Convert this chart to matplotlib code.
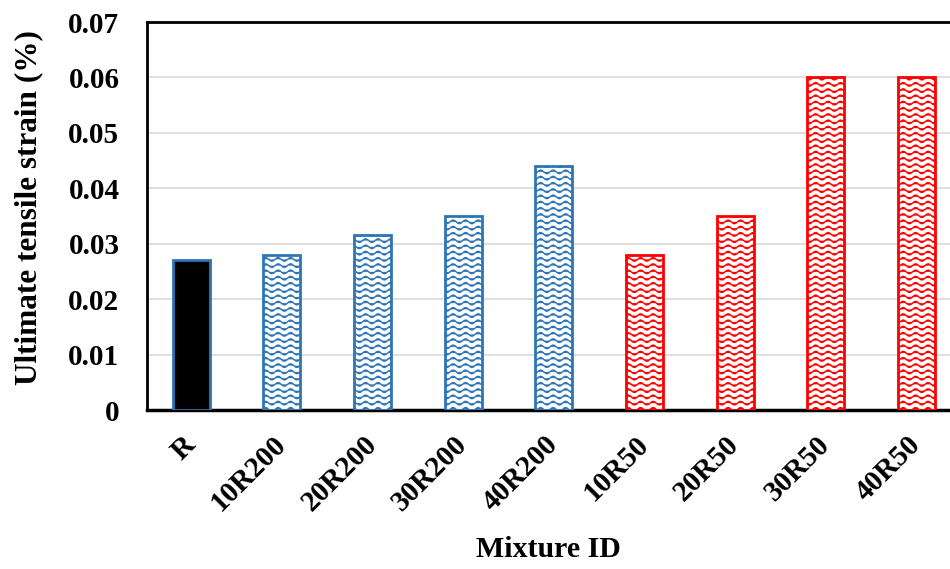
import warnings
import numpy as np
import matplotlib
matplotlib.use("Agg")
import matplotlib.pyplot as plt
import matplotlib.hatch as mhatch

warnings.filterwarnings("ignore")

# Data
mixtures = ["R", "10R200", "20R200", "30R200", "40R200", "10R50", "20R50", "30R50", "40R50"]
strain = [0.027, 0.028, 0.0315, 0.035, 0.044, 0.028, 0.035, 0.060, 0.060]
groups = ["ref", "R200", "R200", "R200", "R200", "R50", "R50", "R50", "R50"]
y_ticks = [0, 0.01, 0.02, 0.03, 0.04, 0.05, 0.06, 0.07]
y_tick_labels = ["0", "0.01", "0.02", "0.03", "0.04", "0.05", "0.06", "0.07"]


class WaveHatch(mhatch.HatchPatternBase):
    """Rows of small sine waves, selected with the '~' hatch character."""
    rows_per_cell = 16
    periods_per_cell = 8
    samples = 96
    amplitude = 0.018

    def __init__(self, hatch, density):
        self.num_rows = hatch.count("~") * self.rows_per_cell
        self.num_vertices = self.num_rows * (self.samples + 1)

    def set_vertices_and_codes(self, vertices, codes):
        if self.num_rows == 0:
            return
        x = np.linspace(0.0, 1.0, self.samples + 1)
        wave = self.amplitude * np.sin(2 * np.pi * self.periods_per_cell * x)
        n = self.samples + 1
        for i in range(self.num_rows):
            y0 = (i + 0.5) / self.num_rows
            vertices[i * n:(i + 1) * n, 0] = x
            vertices[i * n:(i + 1) * n, 1] = y0 + wave
            codes[i * n] = mhatch.Path.MOVETO
            codes[i * n + 1:(i + 1) * n] = mhatch.Path.LINETO


if WaveHatch not in mhatch._hatch_types:
    mhatch._hatch_types.append(WaveHatch)

plt.rcParams["font.family"] = ["Liberation Serif", "DejaVu Serif"]
plt.rcParams["font.weight"] = "bold"
plt.rcParams["hatch.linewidth"] = 1.0

BLUE = "#2E75B6"
RED = "#FF0000"
styles = {
    "ref": dict(facecolor="black", edgecolor=BLUE, hatch=None),
    "R200": dict(facecolor="white", edgecolor=BLUE, hatch="~"),
    "R50": dict(facecolor="white", edgecolor=RED, hatch="~"),
}

fig = plt.figure(figsize=(9.5, 5.69), dpi=100)
ax = fig.add_axes([0.155, 0.2794, 0.845, 0.6819])

x = np.arange(len(mixtures))
for xi, val, g in zip(x, strain, groups):
    st = styles[g]
    ax.bar(xi, val, width=0.41, facecolor=st["facecolor"], edgecolor=st["edgecolor"],
           hatch=st["hatch"], linewidth=2.0, zorder=3)

ax.set_xlim(-0.485, 8.37)
ax.set_ylim(0, 0.07)
ax.set_yticks(y_ticks)
ax.set_yticklabels(y_tick_labels, fontsize=21, fontweight="bold")
ax.set_xticks(x)
ax.set_xticklabels(mixtures, fontsize=21, fontweight="bold", rotation=45,
                   ha="right", va="center", rotation_mode="anchor")
ax.tick_params(axis="both", length=0)
ax.tick_params(axis="y", pad=20)
ax.tick_params(axis="x", pad=22)

ax.yaxis.grid(True, color="#D9D9D9", linewidth=1.2, zorder=0)
ax.set_axisbelow(True)

for side in ("left", "top"):
    ax.spines[side].set_linewidth(2.0)
    ax.spines[side].set_color("black")
ax.spines["bottom"].set_linewidth(2.5)
ax.spines["bottom"].set_color("black")
ax.spines["right"].set_visible(False)

ax.set_ylabel("Ultimate tensile strain (%)", fontsize=22.5, fontweight="bold")
ax.yaxis.set_label_coords(-0.1295, 0.523)
ax.set_xlabel("Mixture ID", fontsize=21.5, fontweight="bold", labelpad=14)

fig.savefig("out.png", dpi=100)
